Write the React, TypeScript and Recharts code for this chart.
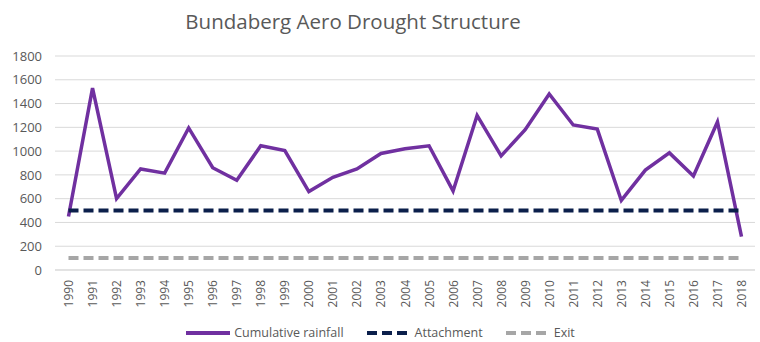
import React from 'react'
import { LineChart, Line, XAxis, YAxis, CartesianGrid, Legend } from 'recharts'

const YEARS = [
  '1990', '1991', '1992', '1993', '1994', '1995', '1996', '1997', '1998', '1999',
  '2000', '2001', '2002', '2003', '2004', '2005', '2006', '2007', '2008', '2009',
  '2010', '2011', '2012', '2013', '2014', '2015', '2016', '2017', '2018',
]
const RAINFALL = [
  450, 1530, 600, 850, 815, 1195, 860, 755, 1045, 1005,
  660, 780, 850, 980, 1020, 1045, 665, 1300, 960, 1180,
  1480, 1220, 1185, 585, 840, 985, 790, 1245, 280,
]
const ATTACHMENT = 500
const EXIT = 100
const Y_TICKS = [0, 200, 400, 600, 800, 1000, 1200, 1400, 1600, 1800]

const COLORS = {
  rain: '#7030A0',
  attach: '#0B1F4B',
  exit: '#A6A6A6',
  text: '#595959',
  grid: '#D9D9D9',
}
const FONT = '"Open Sans", "Liberation Sans", sans-serif'

const data = YEARS.map((y, i) => ({
  year: y,
  rain: RAINFALL[i],
  attach: ATTACHMENT,
  exit: EXIT,
}))

const YearTick = (props: any) => {
  const { x, y, payload } = props
  return (
    <text
      x={x}
      y={y}
      transform={`rotate(-90, ${x}, ${y})`}
      textAnchor="end"
      dominantBaseline="central"
      fill={COLORS.text}
      fontSize={12}
      fontFamily={FONT}
    >
      {payload.value}
    </text>
  )
}

const legendItems = [
  { label: 'Cumulative rainfall', color: COLORS.rain, dash: undefined },
  { label: 'Attachment', color: COLORS.attach, dash: '10 5' },
  { label: 'Exit', color: COLORS.exit, dash: '10 5' },
]

const LegendContent = () => (
  <div
    style={{
      display: 'flex', justifyContent: 'center', gap: 22, fontFamily: FONT,
      fontSize: 12.5, lineHeight: '14px', height: 14, color: COLORS.text,
    }}
  >
    {legendItems.map((it) => (
      <div key={it.label} style={{ display: 'flex', alignItems: 'center' }}>
        <svg width={46} height={10} style={{ marginRight: 3 }}>
          <line x1={1} y1={5} x2={45} y2={5} stroke={it.color} strokeWidth={4} strokeDasharray={it.dash} />
        </svg>
        <span>{it.label}</span>
      </div>
    ))}
  </div>
)

export default function App() {
  return (
    <div style={{ position: 'absolute', left: 0, top: 0, width: 760, height: 342, background: '#fff', overflow: 'hidden' }}>
      <div
        style={{
          position: 'absolute', top: 7, left: 0, width: 706, textAlign: 'center',
          fontFamily: FONT, fontSize: 20.5, color: COLORS.text,
        }}
      >
        Bundaberg Aero Drought Structure
      </div>
      <LineChart
        width={760}
        height={342}
        data={data}
        margin={{ top: 56, right: 5, left: 0, bottom: 14 }}
      >
        <CartesianGrid horizontal vertical={false} stroke={COLORS.grid} />
        <XAxis
          dataKey="year"
          interval={0}
          axisLine={{ stroke: COLORS.grid }}
          tickLine={false}
          tick={<YearTick />}
          tickMargin={4}
          height={44}
          padding={{ left: 13.5, right: 13.5 }}
        />
        <YAxis
          width={55}
          domain={[0, 1800]}
          ticks={Y_TICKS}
          interval={0}
          axisLine={false}
          tickLine={false}
          tickSize={6}
          tickMargin={7}
          tick={{ fill: COLORS.text, fontSize: 13, fontFamily: FONT }}
        />
        <Legend
          content={<LegendContent />}
          wrapperStyle={{ position: 'absolute', top: 326, left: 0, width: 760, height: 14 }}
        />
        <Line dataKey="rain" stroke={COLORS.rain} strokeWidth={3.5} dot={false} isAnimationActive={false} />
        <Line dataKey="attach" stroke={COLORS.attach} strokeWidth={4} strokeDasharray="10 5" dot={false} isAnimationActive={false} />
        <Line dataKey="exit" stroke={COLORS.exit} strokeWidth={4} strokeDasharray="10 5" dot={false} isAnimationActive={false} />
      </LineChart>
    </div>
  )
}
